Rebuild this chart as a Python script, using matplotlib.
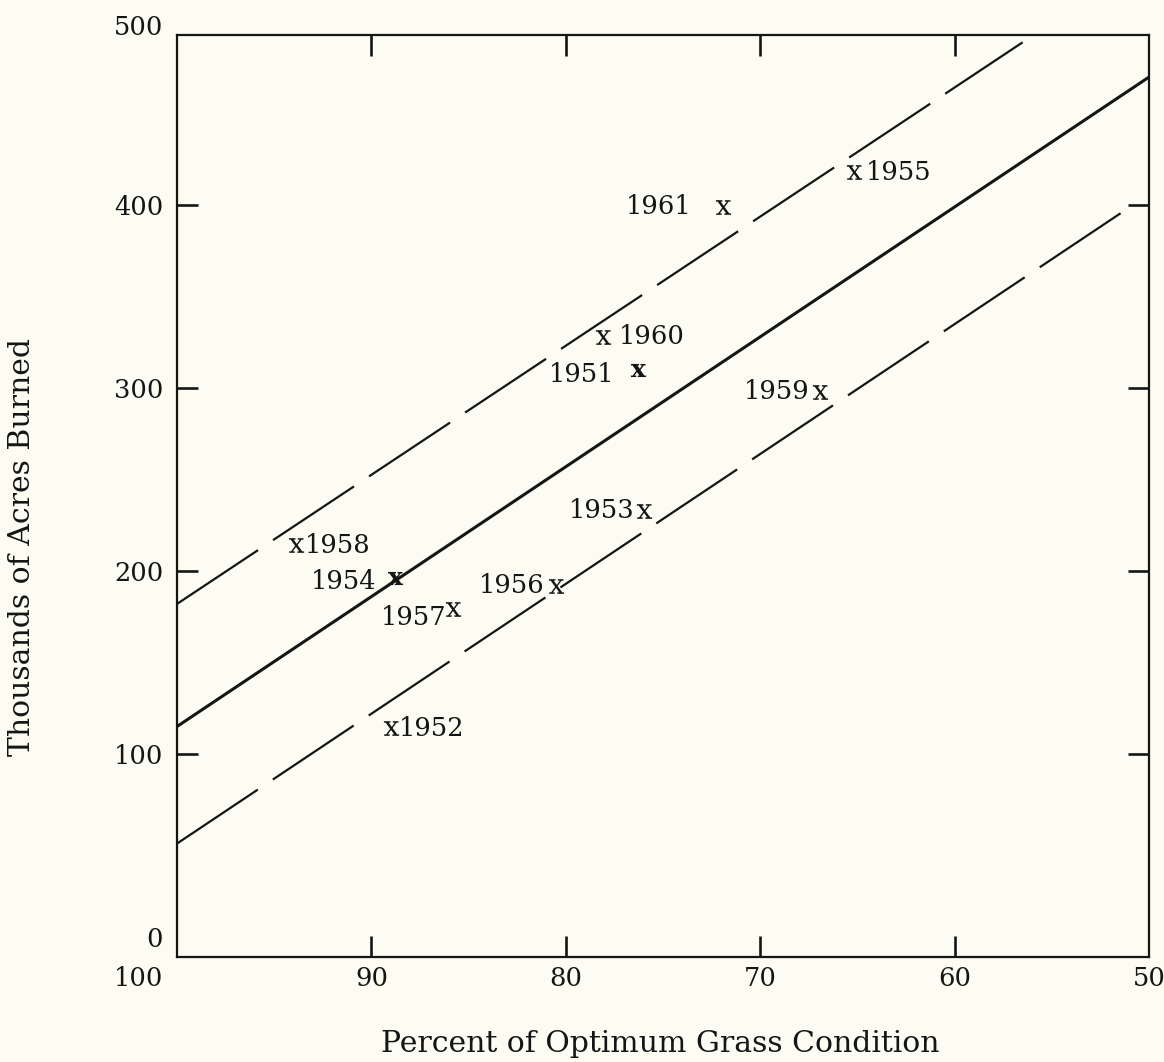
import matplotlib
matplotlib.use("Agg")
import matplotlib.pyplot as plt

plt.rcParams['font.family'] = ['DejaVu Serif']
plt.rcParams['mathtext.fontset'] = 'dejavuserif'
plt.rcParams['lines.scale_dashes'] = False

# ---------------- data ----------------
years = ['1951', '1952', '1953', '1954', '1955', '1956', '1957', '1958', '1959', '1960', '1961']
grass_pct = [76.3, 89.0, 76.0, 88.8, 65.2, 80.5, 85.8, 93.9, 66.9, 78.1, 71.9]
acres_k = [310, 114, 233, 196, 418, 192, 179, 214, 298, 328, 399]

# regression line and its upper/lower bounds (end points)
center_x = [100, 50]
center_y = [115, 470]
upper_x = [100, 56.5]
upper_y = [182, 489]
lower_x = [100, 51.4]
lower_y = [51, 396]

xtick_vals = [90, 80, 70, 60, 50]
ytick_vals = [0, 100, 200, 300, 400]

# ---------------- styles ----------------
bg = '#fcfcf2'
ink = '#151515'
# label offsets (points) and alignment per year
label_style = {
    '1951': (-16.5, -3.6, 'right'),
    '1952': (5.8, 0, 'left'),
    '1953': (-6.5, 0, 'right'),
    '1954': (-13, -2, 'right'),
    '1955': (8.6, 0, 'left'),
    '1956': (-8, 0, 'right'),
    '1957': (-5, -6, 'right'),
    '1958': (6.5, 0, 'left'),
    '1959': (-8, 0, 'right'),
    '1960': (11.5, 0, 'left'),
    '1961': (-23, 0, 'right'),
}
bold_years = {'1951', '1954'}
dash_style = (0, (70, 13))

W, H = 1164, 1062
fig = plt.figure(figsize=(W / 100, H / 100), dpi=100)
fig.patch.set_facecolor(bg)
ax = fig.add_axes([177 / W, 1 - 957 / H, (1149 - 177) / W, (957 - 35) / H])
ax.set_facecolor(bg)
ax.set_xlim(100, 50)
ax.set_ylim(-11, 493)

# lines
ax.plot(center_x, center_y, color=ink, lw=2.2, solid_capstyle='butt')
ax.plot(upper_x, upper_y, color=ink, lw=1.6, linestyle=dash_style, dash_capstyle='butt')
ax.plot(lower_x, lower_y, color=ink, lw=1.6, linestyle=dash_style, dash_capstyle='butt')

# points
for yr, gx, ay in zip(years, grass_pct, acres_k):
    mk = r'$\mathbf{x}$' if yr in bold_years else r'$\mathrm{x}$'
    ax.scatter([gx], [ay], marker=mk, s=120, color=ink, linewidths=0, zorder=3)
    dx, dy, ha = label_style[yr]
    ax.annotate(yr, xy=(gx, ay), xytext=(dx, dy), textcoords='offset points',
                ha=ha, va='center', fontsize=18.5, color=ink)

# ticks
ax.set_xticks(xtick_vals)
ax.set_xticklabels([str(v) for v in xtick_vals])
ax.set_yticks(ytick_vals)
ax.set_yticklabels([str(v) for v in ytick_vals])
ax.tick_params(direction='in', length=15, width=1.9, top=True, right=True,
               labelsize=18.5, colors=ink)
ax.tick_params(axis='y', pad=10)
ax.tick_params(axis='x', pad=6.5)
for t in ax.yaxis.get_major_ticks()[:1]:
    t.tick1line.set_visible(False)
    t.tick2line.set_visible(False)
for t in ax.xaxis.get_major_ticks()[-1:]:
    t.tick1line.set_visible(False)
    t.tick2line.set_visible(False)

# extra end labels of the axes
ax.annotate('100', xy=(100, 0), xycoords=('data', 'axes fraction'), xytext=(-10, -6.5),
            textcoords='offset points', ha='right', va='top', fontsize=18.5, color=ink,
            annotation_clip=False)
ax.annotate('500', xy=(0, 500), xycoords=('axes fraction', 'data'), xytext=(-10, -2),
            textcoords='offset points', ha='right', va='center_baseline', fontsize=18.5,
            color=ink, annotation_clip=False)

for s in ax.spines.values():
    s.set_linewidth(1.6)
    s.set_color(ink)

fig.text(22 / W, 1 - 547 / H, 'Thousands of Acres Burned', rotation=90,
         ha='center', va='center', fontsize=21.5, color=ink)
fig.text(660 / W, 1 - 1044 / H, 'Percent of Optimum Grass Condition',
         ha='center', va='center', fontsize=21.5, color=ink)

fig.savefig('out.png', dpi=100, facecolor=bg)
